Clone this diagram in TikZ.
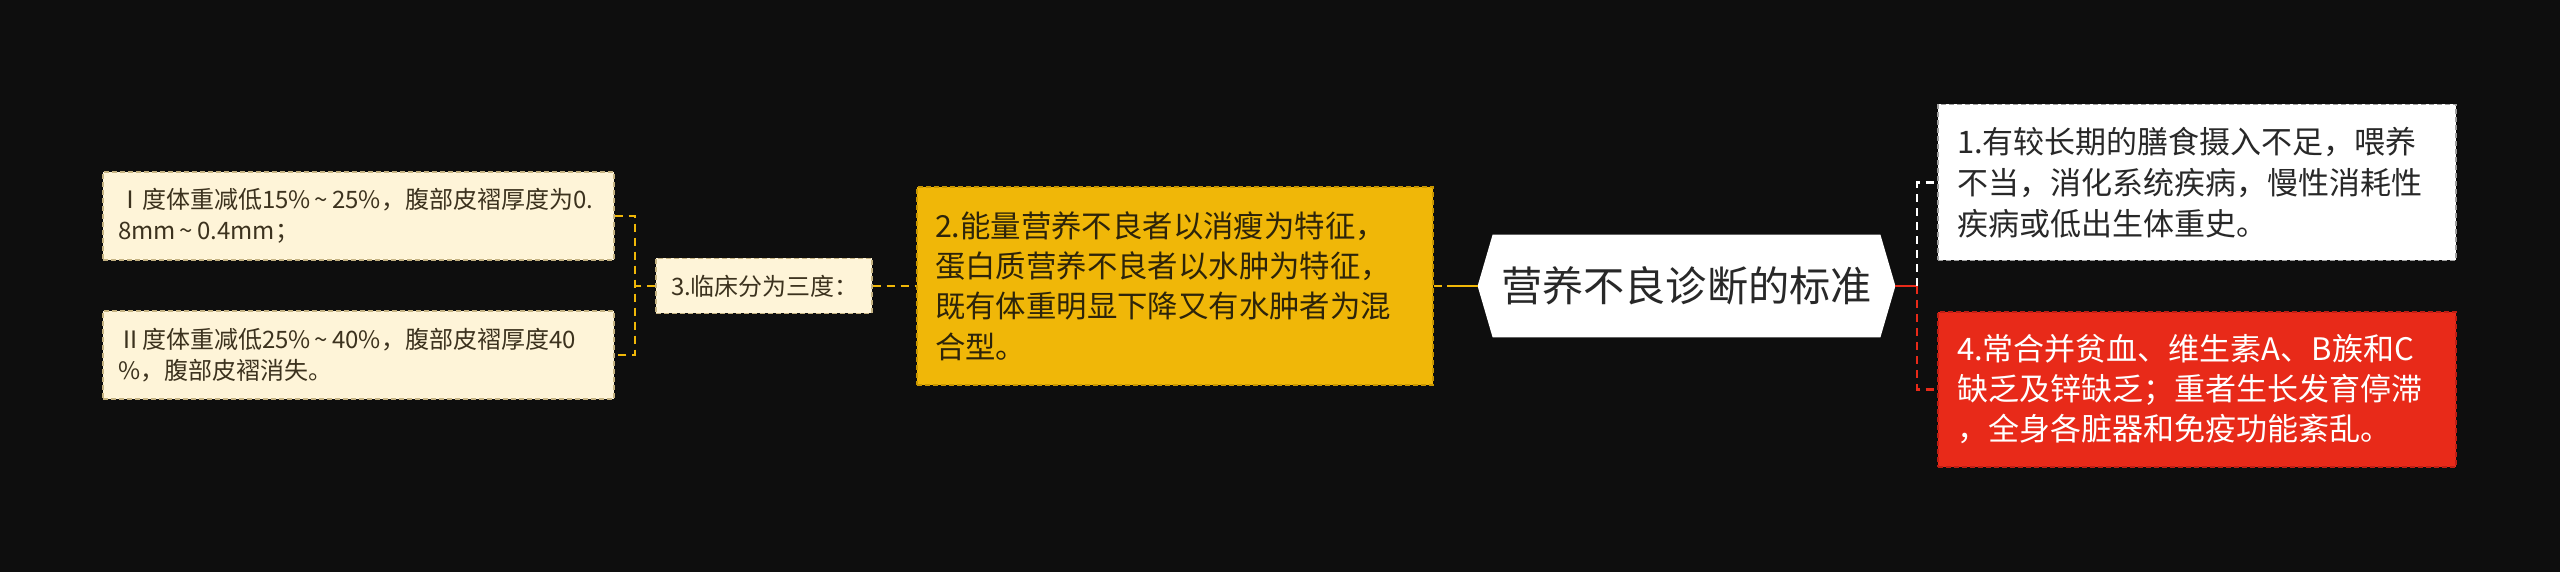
\documentclass[tikz,border=0pt]{standalone}
\usepackage{fontspec}
\setmainfont{Noto Sans CJK SC}
\definecolor{bgc}{RGB}{14,14,14}
\definecolor{creamc}{RGB}{254,244,216}
\definecolor{creamd}{RGB}{196,178,130}
\definecolor{creamt}{RGB}{60,50,30}
\definecolor{yc}{RGB}{240,183,8}
\definecolor{ycd}{RGB}{200,150,0}
\definecolor{yt}{RGB}{45,36,10}
\definecolor{rc}{RGB}{232,42,25}
\definecolor{rcd}{RGB}{190,30,20}
\definecolor{wd}{RGB}{160,160,160}
\definecolor{darkt}{RGB}{40,40,40}
\newcommand\wavesign{\hbox to 0.9em{\hss\char"007E\hss}}
\pgfdeclarelayer{back}
\pgfsetlayers{back,main}
\begin{document}
\begin{tikzpicture}[x=0.5pt,y=-0.5pt,
  box/.style={rectangle, anchor=center, align=left, inner ysep=0pt, line width=0.6pt, dash pattern=on 2.5pt off 1.5pt},
  cream/.style={box, fill=creamc, draw=creamd, text=creamt, font=\fontsize{12pt}{15.5pt}\selectfont, text width=240.5pt, inner xsep=7.5pt, minimum height=44pt},
  lvl3/.style={box, fill=creamc, draw=creamd, text=creamt, font=\fontsize{12pt}{14pt}\selectfont, text width=93pt, inner xsep=7.5pt, minimum height=27.5pt},
  ybox/.style={box, fill=yc, draw=ycd, text=yt, font=\fontsize{15.2pt}{20.2pt}\selectfont, text width=240pt, inner xsep=9pt, minimum height=99pt},
  wbox/.style={box, fill=white, draw=wd, text=darkt, font=\fontsize{15.5pt}{20.5pt}\selectfont, text width=240pt, inner xsep=9.5pt, minimum height=78pt},
  rbox/.style={box, fill=rc, draw=rcd, text=white, font=\fontsize{15.5pt}{20pt}\selectfont, text width=240pt, inner xsep=9.5pt, minimum height=77.5pt},
  rootn/.style={rectangle, anchor=center, inner sep=0pt, minimum width=193.5pt, minimum height=51pt, text=darkt, font=\fontsize{20.6pt}{24pt}\selectfont},
  conn/.style={line width=1.3pt, dash pattern=on 4pt off 3pt},
  solidc/.style={line width=1.3pt}]
\begin{pgfonlayer}{back}
\fill[bgc] (0,0) rectangle (2560,572);
\end{pgfonlayer}
\useasboundingbox (0,0) rectangle (2560,572);

\node[rootn] (root) at (1686.5,286) {营养不良诊断的标准};
\begin{pgfonlayer}{back}
\fill[white] (root.north west) -- (root.north east) -- ([xshift=7.5pt]root.east) -- (root.south east) -- (root.south west) -- ([xshift=-7.5pt]root.west) -- cycle;
\end{pgfonlayer}

\node[cream] (b1a) at (358.5,216) {Ⅰ度体重减低15\%\wavesign 25\%，腹部皮褶厚度为0.\\8mm\wavesign 0.4mm；};
\node[cream] (b1b) at (358.5,355) {Ⅱ度体重减低25\%\wavesign 40\%，腹部皮褶厚度40\\\%，腹部皮褶消失。};
\node[lvl3] (b3) at (764,286) {3.临床分为三度：};
\node[ybox] (b2) at (1175,286) {2.能量营养不良者以消瘦为特征，\\蛋白质营养不良者以水肿为特征，\\既有体重明显下降又有水肿者为混\\合型。};
\node[wbox] (b1) at (2197,182.5) {1.有较长期的膳食摄入不足，喂养\\不当，消化系统疾病，慢性消耗性\\疾病或低出生体重史。};
\node[rbox] (b4) at (2197,389.5) {4.常合并贫血、维生素A、B族和C\\缺乏及锌缺乏；重者生长发育停滞\\，全身各脏器和免疫功能紊乱。};

\coordinate (rL) at ([xshift=-7.5pt]root.west);
\coordinate (rR) at ([xshift=7.5pt]root.east);
\coordinate (jL) at (1447,286);
\coordinate (jB) at (635,286);
\coordinate (jR) at (1917,286);

\draw[yc, conn] (b2.east) -- (jL);
\draw[yc, solidc] (jL) -- (rL);
\draw[yc, conn] (b3.east) -- (b2.west);
\draw[yc, conn] (b3.west) -- (jB);
\draw[yc, conn] (b1a.east) -| (jB) |- (b1b.east);
\draw[rc, solidc] (rR) -- (jR);
\draw[white, conn] (jR) |- (b1.west);
\draw[rc, conn] (jR) |- (b4.west);
\end{tikzpicture}
\end{document}
